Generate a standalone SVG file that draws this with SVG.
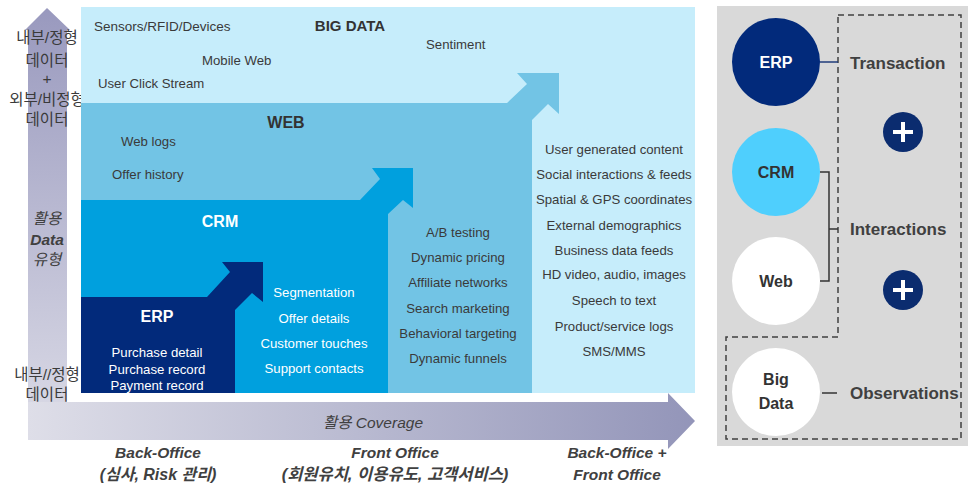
<svg xmlns="http://www.w3.org/2000/svg" width="970" height="485" viewBox="0 0 970 485">
  <defs>
    <linearGradient id="gradV" x1="0" y1="0" x2="0" y2="1">
      <stop offset="0" stop-color="#9999BE"/>
      <stop offset="1" stop-color="#DCDCE7"/>
    </linearGradient>
    <linearGradient id="gradH" x1="0" y1="0" x2="1" y2="0">
      <stop offset="0" stop-color="#DEDEE8"/>
      <stop offset="1" stop-color="#9395B9"/>
    </linearGradient>
    <style>
      .t { font-family: "Liberation Sans", Arial, sans-serif; font-size: 13.2px; fill: #3a3a3a; }
      .w { fill: #ffffff; }
      .m { text-anchor: middle; }
      .h { font-family: "Liberation Sans", Arial, sans-serif; font-weight: bold; font-size: 16px; text-anchor: middle; }
      .kr { font-family: "Liberation Sans", "Noto Sans CJK KR", sans-serif; font-size: 15.5px; fill: #3a3a3a; text-anchor: middle; }
      .ax { font-family: "Liberation Sans", "Noto Sans CJK KR", sans-serif; font-size: 15.5px; font-style: italic; fill: #404040; text-anchor: middle; }
      .axb { font-family: "Liberation Sans", "Noto Sans CJK KR", sans-serif; font-size: 15.5px; font-style: italic; font-weight: bold; fill: #404040; text-anchor: middle; }
      .lbl { font-family: "Liberation Sans", Arial, sans-serif; font-weight: bold; font-size: 17px; fill: #404040; }
      .conn { fill: none; stroke: #333333; stroke-width: 1.5; }
    </style>
  </defs>

  <!-- axes -->
  <g id="axis-y">
    <path d="M47,8 L70,30 H67 V440 H28 V30 H25 Z" fill="url(#gradV)"/>
    <text class="kr" x="47" y="43">내부/정형</text>
    <text class="kr" x="47" y="66">데이터</text>
    <text class="kr" x="47" y="84">+</text>
    <text class="kr" x="47" y="105">외부/비정형</text>
    <text class="kr" x="47" y="125">데이터</text>
    <text class="ax" x="47" y="224">활용</text>
    <text class="axb" x="47" y="245">Data</text>
    <text class="ax" x="47" y="265">유형</text>
    <text class="kr" x="47" y="380">내부//정형</text>
    <text class="kr" x="47" y="400">데이터</text>
  </g>
  <g id="axis-x">
    <path d="M28,402 H668 V393 L695,421 L668,449 V440 H28 Z" fill="url(#gradH)"/>
    <text class="ax" x="373" y="428">활용 Coverage</text>
    <text class="axb" x="158" y="458">Back-Office</text>
    <text class="axb" x="158" y="480" style="font-size:16px">(심사, Risk 관리)</text>
    <text class="axb" x="395" y="458">Front Office</text>
    <text class="axb" x="395" y="480" style="font-size:16.5px">(회원유치, 이용유도, 고객서비스)</text>
    <text class="axb" x="617" y="458">Back-Office +</text>
    <text class="axb" x="617" y="480">Front Office</text>
  </g>

  <!-- staircase of data layers -->
  <g id="bigdata">
    <rect x="81" y="7" width="614" height="386" fill="#C6EDFB"/>
    <text class="t" x="94" y="31" style="font-size:13.5px">Sensors/RFID/Devices</text>
    <text class="h" x="350" y="31" style="font-size:15px;fill:#333">BIG DATA</text>
    <text class="t" x="426" y="49">Sentiment</text>
    <text class="t" x="202" y="65">Mobile Web</text>
    <text class="t" x="98" y="88">User Click Stream</text>
    <text class="t m" x="614" y="154">User generated content</text>
    <text class="t m" x="614" y="179">Social interactions &amp; feeds</text>
    <text class="t m" x="614" y="204">Spatial &amp; GPS coordinates</text>
    <text class="t m" x="614" y="230">External demographics</text>
    <text class="t m" x="614" y="255">Business data feeds</text>
    <text class="t m" x="614" y="279">HD video, audio, images</text>
    <text class="t m" x="614" y="305">Speech to text</text>
    <text class="t m" x="614" y="331">Product/service logs</text>
    <text class="t m" x="614" y="356">SMS/MMS</text>
  </g>
  <g id="web">
    <path d="M81,103 H507 L527,84 L517,73 H559 V114 L548,104 L532,120 V393 H81 Z" fill="#72C4E5"/>
    <text class="h" x="286" y="128" style="fill:#333">WEB</text>
    <text class="t" x="121" y="146">Web logs</text>
    <text class="t" x="112" y="179">Offer history</text>
    <text class="t m" x="458" y="237">A/B testing</text>
    <text class="t m" x="458" y="262">Dynamic pricing</text>
    <text class="t m" x="458" y="287">Affiliate networks</text>
    <text class="t m" x="458" y="313">Search marketing</text>
    <text class="t m" x="458" y="338">Behavioral targeting</text>
    <text class="t m" x="458" y="363">Dynamic funnels</text>
  </g>
  <g id="crm">
    <path d="M81,200 H360 L380,179 L372,168 H413 V208 L403,200 L388,214 V393 H81 Z" fill="#00A0DE"/>
    <text class="h w" x="220" y="227">CRM</text>
    <text class="t m w" x="314" y="297">Segmentation</text>
    <text class="t m w" x="314" y="323">Offer details</text>
    <text class="t m w" x="314" y="348">Customer touches</text>
    <text class="t m w" x="314" y="373">Support contacts</text>
  </g>
  <g id="erp">
    <path d="M81,297 H207 L230,272 L222,262 H263 V302 L252,293 L235,310 V393 H81 Z" fill="#022A7B"/>
    <text class="h w" x="157" y="322">ERP</text>
    <text class="t m w" x="157" y="357">Purchase detail</text>
    <text class="t m w" x="157" y="374">Purchase record</text>
    <text class="t m w" x="157" y="390">Payment record</text>
  </g>

  <!-- right-hand summary panel -->
  <g id="panel">
    <rect x="717" y="6" width="251" height="440" fill="#D9D9D9"/>
    <path d="M838,15 H961 V439 H726 V337 H838 Z" fill="none" stroke="#404040" stroke-width="1.5" stroke-dasharray="6,4"/>
  </g>

  <g id="connectors">
    <line x1="820" y1="62" x2="838" y2="62" stroke="#1F3B7A" stroke-width="1.5"/>
    <path class="conn" d="M820,172 H829 V281 H820 M829,229 H838"/>
    <line class="conn" x1="822" y1="393" x2="837" y2="393"/>
  </g>

  <g id="node-erp">
    <circle cx="776" cy="62" r="44" fill="#022A7B"/>
    <text class="h w" x="776" y="68">ERP</text>
  </g>
  <g id="node-crm">
    <circle cx="776" cy="172" r="44" fill="#4FCFFD"/>
    <text class="h" x="776" y="178" style="fill:#333">CRM</text>
  </g>
  <g id="node-web">
    <circle cx="776" cy="281" r="44" fill="#FFFFFF"/>
    <text class="h" x="776" y="287" style="fill:#333">Web</text>
  </g>
  <g id="node-bigdata">
    <circle cx="776" cy="392" r="44" fill="#FFFFFF"/>
    <text class="h" x="776" y="385" style="fill:#333">Big</text>
    <text class="h" x="776" y="409" style="fill:#333">Data</text>
  </g>

  <g id="label-transaction">
    <text class="lbl" x="850" y="69">Transaction</text>
  </g>
  <g id="label-interactions">
    <text class="lbl" x="850" y="235">Interactions</text>
  </g>
  <g id="label-observations">
    <text class="lbl" x="850" y="399">Observations</text>
  </g>

  <g id="plus-1">
    <circle cx="903" cy="132" r="20" fill="#0B2C6F"/>
    <path d="M893,132 H913 M903,122 V142" stroke="#fff" stroke-width="4"/>
  </g>
  <g id="plus-2">
    <circle cx="903" cy="290" r="20" fill="#0B2C6F"/>
    <path d="M893,290 H913 M903,280 V300" stroke="#fff" stroke-width="4"/>
  </g>
</svg>
